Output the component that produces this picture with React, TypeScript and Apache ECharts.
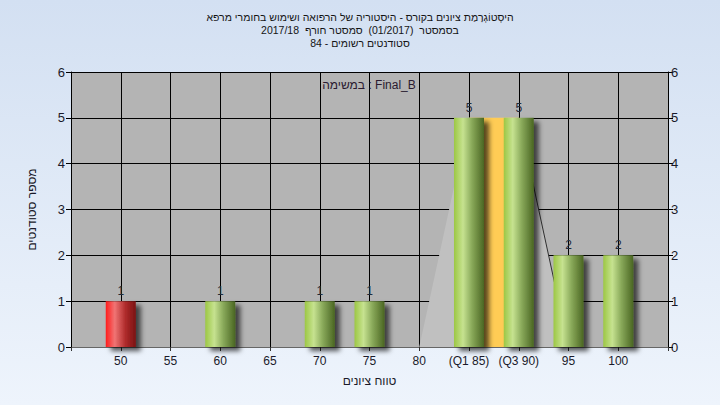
import React, { useEffect, useRef } from "react";
import * as echarts from "echarts";

const titleLines = [
  "היסְטוֹגְרָמַת ציונים בקורס - היסטוריה של הרפואה ושימוש בחומרי מרפא",
  "בסמסטר  (01/2017)  סמסטר חורף  2017/18",
  "סטודנטים רשומים - 84",
];
const innerCaption = "במשימה : Final_B";
const xAxisName = "טווח ציונים";
const yAxisName = "מספר סטודנטים";

const xTicks = [50, 55, 60, 65, 70, 75, 80, 85, 90, 95, 100];
const xTickLabels = ["50", "55", "60", "65", "70", "75", "80", "(Q1 85)", "(Q3 90)", "95", "100"];

const barGrades = [50, 60, 70, 75, 85, 90, 95, 100];
const barCounts = [1, 1, 1, 1, 5, 5, 2, 2];
const failingGrades = [50];

// quartile band: from Q1 to Q3, height
const bandFrom = [85];
const bandTo = [90];
const bandHeight = [5];

// light distribution polygon (grade, count)
const distGrades = [80, 85, 90, 95];
const distCounts = [0, 5, 5, 0];

const FONT = "'Liberation Sans', 'DejaVu Sans', Arial, sans-serif";

function greenGrad() {
  return new echarts.graphic.LinearGradient(0, 0, 1, 0, [
    { offset: 0, color: "#9cc744" },
    { offset: 0.3, color: "#c6e290" },
    { offset: 0.6, color: "#89a95a" },
    { offset: 1, color: "#4a6622" },
  ]);
}
function redGrad() {
  return new echarts.graphic.LinearGradient(0, 0, 1, 0, [
    { offset: 0, color: "#ff1c1c" },
    { offset: 0.3, color: "#f07474" },
    { offset: 0.65, color: "#b02c2c" },
    { offset: 1, color: "#7a1212" },
  ]);
}

export default function App() {
  const ref = useRef<HTMLDivElement>(null);
  useEffect(() => {
    if (!ref.current) return;
    const chart = echarts.init(ref.current, undefined, { renderer: "svg" });

    const barData = barGrades.map((g, i) => ({
      value: [g, barCounts[i]],
      itemStyle: {
        color: failingGrades.includes(g) ? redGrad() : greenGrad(),
        shadowColor: "rgba(0,0,0,0.65)",
        shadowBlur: 5,
        shadowOffsetX: 5,
        shadowOffsetY: 4,
      },
    }));

    const option: any = {
      animation: false,
      textStyle: { fontFamily: FONT },
      title: {
        text: titleLines.join("\n"),
        left: "center",
        top: 5,
        textStyle: {
          fontFamily: FONT,
          fontSize: 10.5,
          fontWeight: "normal",
          color: "#141414",
          lineHeight: 13,
        },
      },
      graphic: [
        {
          type: "text",
          x: 369,
          y: 85,
          style: {
            text: innerCaption,
            fontFamily: FONT,
            fontSize: 12,
            fill: "#2a1a30",
            textAlign: "center",
            textVerticalAlign: "middle",
          },
          z: 10,
        },
      ],
      grid: {
        left: 71,
        right: 52,
        top: 72,
        bottom: 58,
        show: true,
        backgroundColor: "#b4b4b4",
        borderWidth: 0,
      },
      xAxis: {
        type: "value",
        min: 45,
        max: 105,
        interval: 5,
        name: xAxisName,
        nameLocation: "middle",
        nameGap: 28,
        nameTextStyle: { fontFamily: FONT, fontSize: 12, color: "#1a1a2a" },
        axisLine: { show: true, lineStyle: { color: "#666", width: 1 } },
        axisTick: { show: true, length: 4, lineStyle: { color: "#333" } },
        axisLabel: {
          fontFamily: FONT,
          fontSize: 12,
          color: "#1a1a2a",
          margin: 8,
          showMinLabel: true,
          showMaxLabel: true,
          formatter: (v: number) => {
            const i = xTicks.indexOf(v);
            return i >= 0 ? xTickLabels[i] : "";
          },
        },
        splitLine: { show: true, lineStyle: { color: "#000", width: 1 } },
      },
      yAxis: [
        {
          type: "value",
          min: 0,
          max: 6,
          interval: 1,
          position: "left",
          name: yAxisName,
          nameLocation: "middle",
          nameGap: 33,
          nameRotate: 90,
          nameTextStyle: { fontFamily: FONT, fontSize: 12, color: "#1a1a2a" },
          axisLine: { show: true, lineStyle: { color: "#000", width: 1 } },
          axisTick: { show: true, length: 5, lineStyle: { color: "#000" } },
          axisLabel: { fontFamily: FONT, fontSize: 13, color: "#1a1a2a", margin: 6 },
          splitLine: { show: true, lineStyle: { color: "#000", width: 1 } },
        },
        {
          type: "value",
          min: 0,
          max: 6,
          interval: 1,
          position: "right",
          axisLine: { show: true, lineStyle: { color: "#000", width: 1 } },
          axisTick: { show: true, length: 5, lineStyle: { color: "#000" } },
          axisLabel: { fontFamily: FONT, fontSize: 13, color: "#1a1a2a", margin: 3 },
          splitLine: { show: false },
        },
      ],
      series: [
        {
          type: "line",
          data: distGrades.map((g, i) => [g, distCounts[i]]),
          symbol: "none",
          lineStyle: { width: 0, opacity: 0 },
          areaStyle: { color: "#c0c0c0", opacity: 1 },
          clip: true,
          z: 1,
          silent: true,
        },
        {
          type: "line",
          data: distGrades.slice(2).map((g, i) => [g, distCounts[i + 2]]),
          symbol: "none",
          lineStyle: { width: 1, color: "#303030" },
          clip: true,
          z: 2,
          silent: true,
        },
        {
          type: "custom",
          data: bandFrom.map((f, i) => [f, bandTo[i], bandHeight[i]]),
          clip: true,
          z: 3,
          renderItem: (params: any, api: any) => {
            const p0 = api.coord([api.value(0), api.value(2)]);
            const p1 = api.coord([api.value(1), 0]);
            return {
              type: "rect",
              shape: { x: p0[0], y: p0[1], width: p1[0] - p0[0], height: p1[1] - p0[1] },
              style: { fill: "#ffcc55" },
            };
          },
        },
        {
          type: "bar",
          data: barData,
          barWidth: 30,
          z: 4,
          label: {
            show: true,
            position: "top",
            distance: 4,
            fontFamily: FONT,
            fontSize: 12,
            color: "#1f2a3a",
          },
        },
      ],
    };
    chart.setOption(option);
    return () => chart.dispose();
  }, []);

  return (
    <div
      style={{
        position: "absolute",
        left: 0,
        top: 0,
        width: 720,
        height: 405,
        background: "linear-gradient(to bottom, #d3e0f2, #eef4fc)",
      }}
    >
      <div ref={ref} style={{ width: 720, height: 405 }} />
    </div>
  );
}
